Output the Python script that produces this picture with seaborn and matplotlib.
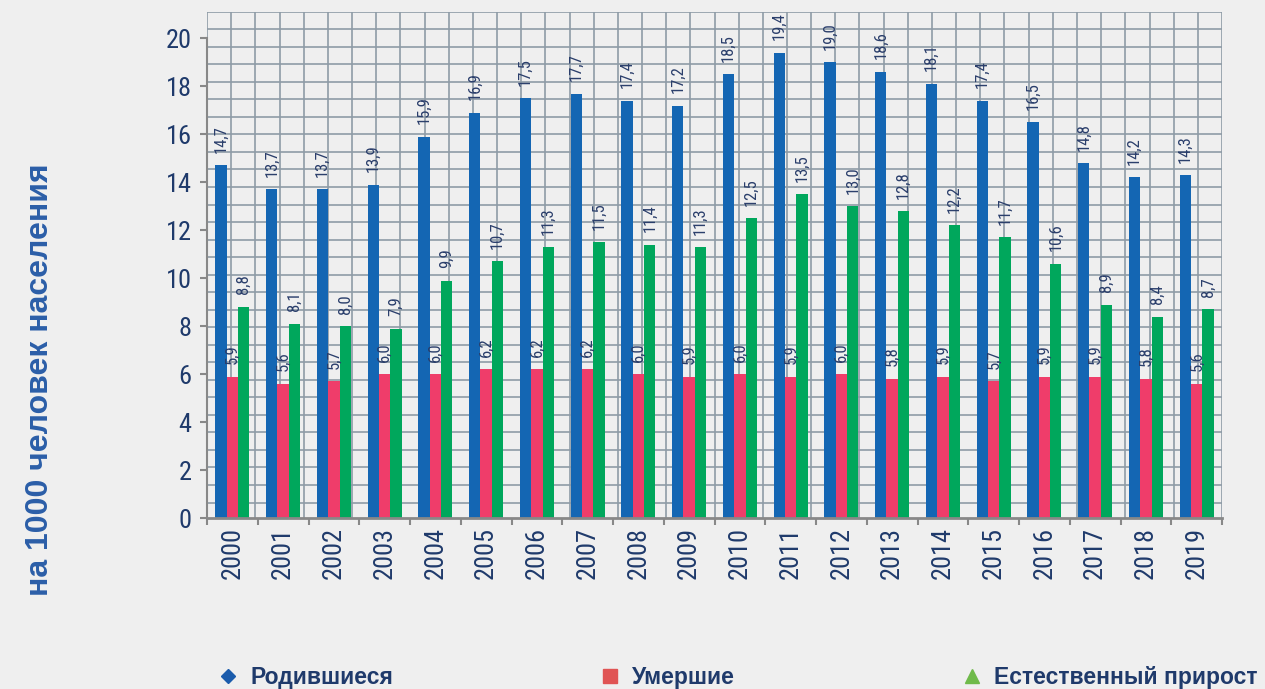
import matplotlib
matplotlib.use("Agg")
import matplotlib.pyplot as plt
import seaborn as sns
import numpy as np
import pandas as pd
from matplotlib.lines import Line2D

# ---- data ----
years = [str(y) for y in range(2000, 2020)]
births = [14.7, 13.7, 13.7, 13.9, 15.9, 16.9, 17.5, 17.7, 17.4, 17.2,
          18.5, 19.4, 19.0, 18.6, 18.1, 17.4, 16.5, 14.8, 14.2, 14.3]
deaths = [5.9, 5.6, 5.7, 6.0, 6.0, 6.2, 6.2, 6.2, 6.0, 5.9,
          6.0, 5.9, 6.0, 5.8, 5.9, 5.7, 5.9, 5.9, 5.8, 5.6]
natural = [8.8, 8.1, 8.0, 7.9, 9.9, 10.7, 11.3, 11.5, 11.4, 11.3,
           12.5, 13.5, 13.0, 12.8, 12.2, 11.7, 10.6, 8.9, 8.4, 8.7]
series_names = ["Родившиеся", "Умершие", "Естественный прирост"]
y_label = "на 1000 человек населения"
y_ticks = [0, 2, 4, 6, 8, 10, 12, 14, 16, 18, 20]

bar_colors = ["#1466b3", "#ef3d6a", "#00a75c"]
legend_colors = ["#1b5cac", "#e05454", "#6fba4a"]
legend_markers = ["D", "s", "^"]
legend_sizes = [7.5, 9.5, 10.5]
navy = "#1f3a6b"

df = pd.DataFrame({
    "year": years * 3,
    "series": [series_names[0]] * 20 + [series_names[1]] * 20 + [series_names[2]] * 20,
    "value": births + deaths + natural,
})

sns.set_theme(style="white")
narrow = ["Roboto Condensed", "PT Sans Narrow", "Liberation Sans", "DejaVu Sans"]
wide = ["Liberation Sans", "DejaVu Sans"]
plt.rcParams["font.family"] = narrow

W, H = 1265, 689
fig = plt.figure(figsize=(W / 100, H / 100), dpi=100, facecolor="#efefef")
L, R, B, T = 207, 1222, 518, 11.7
pos = [L / W, 1 - B / H, (R - L) / W, (B - T) / H]

# decorative background grid (not aligned with the data ticks)
ax_bg = fig.add_axes(pos, zorder=0)
ax_bg.set_facecolor("none")
ax_bg.set_xlim(0, R - L)
ax_bg.set_ylim(0, B - T)
ax_bg.set_xticks(np.linspace(0, R - L, 43))
ax_bg.set_yticks((B - T) - 17.53 * np.arange(29))
ax_bg.grid(True, color="#8e9ba6", linewidth=1.2)
ax_bg.tick_params(length=0, labelbottom=False, labelleft=False)
for s in ax_bg.spines.values():
    s.set_visible(False)

ax = fig.add_axes(pos, zorder=1)
ax.patch.set_alpha(0)
sns.barplot(data=df, x="year", y="value", hue="series", hue_order=series_names,
            palette=bar_colors, width=0.67, saturation=1, linewidth=0,
            legend=False, ax=ax)

for cont in ax.containers:
    vals = [b.get_height() for b in cont]
    ax.bar_label(cont, labels=[f"{v:.1f}".replace(".", ",") for v in vals],
                 rotation=90, padding=9, fontsize=12, color="#2a3e6b")

ax.set_xlim(-0.5, 19.5)
ax.set_ylim(0, (B - T) / 23.98)
ax.set_yticks(y_ticks)
ax.set_yticklabels([str(t) for t in y_ticks])
ax.set_xticks(range(len(years)))
ax.set_xticklabels(years, rotation=90)
ax.set_xticks(np.arange(-0.5, 20, 1), minor=True)
ax.set_xlabel("")
ax.set_ylabel("")
ax.tick_params(axis="y", which="major", left=True, length=5, width=1.5, color="#888888",
               labelsize=19, labelcolor=navy, pad=6)
ax.tick_params(axis="x", which="major", bottom=True, length=0, labelsize=19,
               labelcolor=navy, pad=6.5)
ax.tick_params(axis="x", which="minor", bottom=True, length=5, width=1.5, color="#888888")
for side in ["top", "right"]:
    ax.spines[side].set_visible(False)
ax.spines["left"].set_bounds(0, 20)
ax.spines["left"].set_color("#888888")
ax.spines["left"].set_linewidth(1.5)
ax.spines["bottom"].set_color("#888888")
ax.spines["bottom"].set_linewidth(2)

fig.text(40 / W, 1 - 380 / H, y_label, rotation=90, ha="center", va="center",
         fontsize=23, fontweight="bold", color="#2b5ea8", family=wide)

# legend: three separate entries at fixed positions
leg_x = [218, 600, 962]
for name, col, mk, ms, x in zip(series_names, legend_colors, legend_markers, legend_sizes, leg_x):
    h = Line2D([], [], linestyle="none", marker=mk, color=col, markersize=ms)
    fig.legend(handles=[h], labels=[name], loc="center left",
               bbox_to_anchor=(x / W, 1 - 677.5 / H), frameon=False, borderpad=0,
               borderaxespad=0, handlelength=0.9, handletextpad=0.5,
               prop={"weight": "bold", "size": 16.5, "family": wide}, labelcolor=navy)

fig.savefig("out.png", dpi=100, facecolor=fig.get_facecolor())
